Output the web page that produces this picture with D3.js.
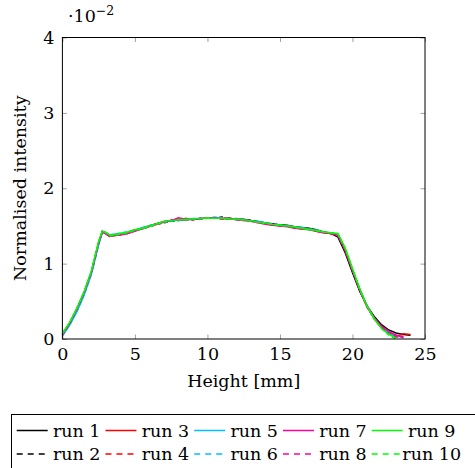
<!DOCTYPE html>
<html>
<head>
<meta charset="utf-8">
<script src="https://cdn.jsdelivr.net/npm/d3@7"></script>
<style>
  body { margin: 0; background: #fff; }
  svg text { font-family: "DejaVu Serif", serif; fill: #000; }
</style>
</head>
<body>
<svg id="canvas"></svg>
<script>
// heights in mm, intensities in units of 1e-2
const heights = [0, 0.5, 1, 1.5, 2, 2.5, 2.75, 3, 3.25, 3.5, 4, 4.5, 5, 5.5, 6, 6.5, 7, 7.5, 8, 8.5,
  9, 9.5, 10, 10.5, 11, 11.5, 12, 12.5, 13, 13.5, 14, 14.5, 15, 15.5, 16, 16.5, 17, 17.5, 18, 18.5,
  19, 19.5, 20, 20.5, 21, 21.5, 22, 22.5, 23, 23.5, 24];

const run1 = [0.07,0.21,0.40,0.62,0.89,1.28,1.43,1.41,1.38,1.38,1.39,1.41,1.44,1.47,1.50,1.53,1.55,1.57,1.58,1.58,
  1.59,1.60,1.60,1.61,1.60,1.60,1.59,1.59,1.57,1.56,1.54,1.53,1.51,1.51,1.49,1.48,1.47,1.45,1.42,1.40,
  1.35,1.14,0.88,0.63,0.44,0.30,0.19,0.12,0.08,0.06,0.05];
const run2 = [0.06,0.20,0.39,0.61,0.88,1.27,1.42,1.40,1.37,1.37,1.38,1.42,1.45,1.46,1.49,1.52,1.54,1.56,1.57,1.59,
  1.58,1.60,1.61,1.60,1.62,1.60,1.59,1.58,1.58,1.55,1.54,1.52,1.52,1.50,1.49,1.47,1.46,1.44,1.42,1.41,
  1.38,1.18,0.92,0.66,0.44,0.28,0.16,0.09,0.05,0.03,null];
const run3 = [0.07,0.21,0.39,0.61,0.88,1.27,1.42,1.40,1.36,1.37,1.39,1.40,1.44,1.46,1.50,1.53,1.56,1.57,1.59,1.58,
  1.59,1.59,1.61,1.60,1.60,1.61,1.58,1.58,1.56,1.55,1.53,1.52,1.50,1.50,1.48,1.46,1.46,1.43,1.41,1.40,
  1.38,1.17,0.91,0.65,0.43,0.27,0.15,0.08,0.03,0.07,0.06];
const run4 = [0.06,0.20,0.38,0.60,0.87,1.26,1.41,1.40,1.37,1.38,1.40,1.41,1.45,1.47,1.49,1.53,1.55,1.58,1.58,1.60,
  1.59,1.59,1.60,1.61,1.59,1.59,1.60,1.57,1.57,1.54,1.53,1.51,1.51,1.49,1.49,1.47,1.45,1.44,1.42,1.40,
  1.37,1.17,0.91,0.65,0.42,0.27,0.15,0.07,0.03,0.02,null];
const run5 = [0.04,0.18,0.36,0.58,0.86,1.25,1.41,1.41,1.38,1.39,1.40,1.41,1.44,1.48,1.50,1.52,1.56,1.57,1.58,1.58,
  1.60,1.60,1.60,1.62,1.60,1.59,1.59,1.58,1.57,1.56,1.54,1.52,1.51,1.50,1.49,1.48,1.46,1.44,1.42,1.41,
  1.38,1.19,0.92,0.66,0.44,0.28,0.16,0.08,0.04,0.02,null];
const run6 = [0.05,0.19,0.37,0.59,0.86,1.26,1.42,1.41,1.38,1.38,1.41,1.42,1.44,1.47,1.51,1.53,1.55,1.56,1.58,1.59,
  1.59,1.59,1.61,1.60,1.61,1.60,1.59,1.58,1.56,1.56,1.53,1.53,1.51,1.50,1.48,1.47,1.46,1.45,1.42,1.41,
  1.38,1.18,0.92,0.65,0.43,0.27,0.15,0.08,0.04,null,null];
const run7 = [0.06,0.21,0.40,0.62,0.89,1.28,1.42,1.39,1.36,1.37,1.38,1.40,1.43,1.46,1.49,1.52,1.55,1.57,1.61,1.59,
  1.58,1.60,1.60,1.61,1.59,1.60,1.58,1.57,1.56,1.54,1.52,1.51,1.50,1.49,1.47,1.46,1.45,1.43,1.41,1.40,
  1.38,1.18,0.92,0.66,0.44,0.28,0.17,0.10,0.05,0.03,null];
const run8 = [0.05,0.20,0.39,0.61,0.88,1.27,1.42,1.40,1.37,1.38,1.39,1.41,1.44,1.46,1.50,1.52,1.55,1.58,1.59,1.60,
  1.59,1.60,1.61,1.60,1.60,1.59,1.59,1.58,1.57,1.55,1.53,1.52,1.50,1.50,1.48,1.47,1.46,1.44,1.42,1.40,
  1.38,1.18,0.91,0.65,0.43,0.28,0.16,0.09,0.04,0.02,null];
const run9 = [0.07,0.22,0.41,0.63,0.91,1.30,1.43,1.41,1.38,1.38,1.40,1.42,1.45,1.47,1.50,1.53,1.56,1.57,1.58,1.59,
  1.59,1.60,1.60,1.60,1.60,1.59,1.59,1.58,1.57,1.55,1.54,1.52,1.51,1.50,1.49,1.47,1.45,1.44,1.42,1.41,
  1.40,1.21,0.94,0.67,0.44,0.27,0.14,0.06,0.01,null,null];
const run10 = [0.07,0.22,0.41,0.63,0.90,1.29,1.43,1.41,1.37,1.37,1.39,1.41,1.44,1.46,1.49,1.52,1.55,1.57,1.58,1.58,
  1.59,1.60,1.61,1.60,1.60,1.60,1.58,1.58,1.56,1.55,1.53,1.52,1.51,1.50,1.48,1.47,1.46,1.44,1.42,1.41,
  1.39,1.20,0.93,0.66,0.43,0.26,0.14,0.05,0.00,null,null];

const runNames = ["run 1", "run 2", "run 3", "run 4", "run 5", "run 6", "run 7", "run 8", "run 9", "run 10"];
const runValues = [run1, run2, run3, run4, run5, run6, run7, run8, run9, run10];
const runColors = ["#000000", "#000000", "#ff0000", "#ff0000", "#00bfff", "#00bfff", "#ff0099", "#ff0099", "#00ff00", "#00ff00"];
const xTicks = [0, 5, 10, 15, 20, 25];
const yTicks = [0, 1, 2, 3, 4];

const width = 475;
const height = 468;
const plot = { left: 62.4, right: 425, top: 37.5, bottom: 339 };

const svg = d3.select("#canvas")
    .attr("width", width)
    .attr("height", height);

const x = d3.scaleLinear().domain([0, 25]).range([plot.left, plot.right]);
const y = d3.scaleLinear().domain([0, 4]).range([plot.bottom, plot.top]);

// inward ticks on all four sides
function styleAxis(g) {
    g.select(".domain").remove();
    g.selectAll(".tick line").attr("stroke", "#a0a0a0").attr("stroke-width", 1);
    g.selectAll(".tick text").style("font-size", "17.5px").style("font-family", "DejaVu Serif");
}

svg.append("g")
    .attr("transform", `translate(0,${plot.bottom})`)
    .call(d3.axisBottom(x).tickValues(xTicks).tickFormat(d3.format("d")).tickSizeInner(-4.5).tickSizeOuter(0).tickPadding(9))
    .call(styleAxis);
svg.append("g")
    .attr("transform", `translate(0,${plot.top})`)
    .call(d3.axisTop(x).tickValues(xTicks).tickSizeInner(-4.5).tickSizeOuter(0).tickFormat(""))
    .call(styleAxis);
svg.append("g")
    .attr("transform", `translate(${plot.left},0)`)
    .call(d3.axisLeft(y).tickValues(yTicks).tickFormat(d3.format("d")).tickSizeInner(-4.5).tickSizeOuter(0).tickPadding(8))
    .call(styleAxis);
svg.append("g")
    .attr("transform", `translate(${plot.right},0)`)
    .call(d3.axisRight(y).tickValues(yTicks).tickSizeInner(-4.5).tickSizeOuter(0).tickFormat(""))
    .call(styleAxis);

// curves
const line = d3.line()
    .defined(d => d[1] != null)
    .x(d => x(d[0]))
    .y(d => y(d[1]));

runValues.forEach((vals, i) => {
    svg.append("path")
        .datum(heights.map((h, k) => [h, vals[k]]))
        .attr("fill", "none")
        .attr("stroke", runColors[i])
        .attr("stroke-width", 1.4)
        .attr("stroke-dasharray", i % 2 ? "4,3" : null)
        .attr("d", line);
});

// frame
svg.append("rect")
    .attr("x", plot.left)
    .attr("y", plot.top)
    .attr("width", plot.right - plot.left)
    .attr("height", plot.bottom - plot.top)
    .attr("fill", "none")
    .attr("stroke", "#000")
    .attr("stroke-width", 1);

// scale factor label
const sf = svg.append("text")
    .attr("x", 68)
    .attr("y", 22)
    .style("font-size", "17.5px");
sf.append("tspan").text("·10");
sf.append("tspan").attr("dy", -7).style("font-size", "12.5px").text("−2");

// axis titles
svg.append("text")
    .attr("x", 243.7)
    .attr("y", 386.5)
    .attr("text-anchor", "middle")
    .style("font-size", "17.5px")
    .text("Height [mm]");

svg.append("text")
    .attr("transform", `translate(26,${(plot.top + plot.bottom) / 2}) rotate(-90)`)
    .attr("text-anchor", "middle")
    .style("font-size", "17.5px")
    .text("Normalised intensity");

// legend
const legend = svg.append("g");
legend.append("rect")
    .attr("x", 11.5)
    .attr("y", 414.5)
    .attr("width", 470)
    .attr("height", 60)
    .attr("fill", "#fff")
    .attr("stroke", "#000")
    .attr("stroke-width", 1);

runNames.forEach((name, i) => {
    const col = Math.floor(i / 2);
    const row = i % 2;
    const lx = 16.7 + col * 88.75;
    const ly = row ? 454 : 430.5;
    legend.append("line")
        .attr("x1", lx).attr("x2", lx + 31)
        .attr("y1", ly).attr("y2", ly)
        .attr("stroke", runColors[i])
        .attr("stroke-width", 1.5)
        .attr("stroke-dasharray", row ? "6,5" : null);
    legend.append("text")
        .attr("x", lx + 60)
        .attr("y", (row ? 453.5 : 430.5) + 6)
        .attr("text-anchor", "middle")
        .style("font-size", "17.5px")
        .text(name);
});
</script>
</body>
</html>
